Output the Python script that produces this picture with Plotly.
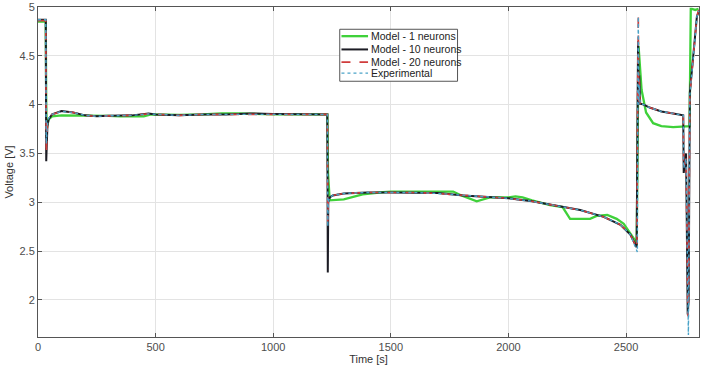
import plotly.graph_objects as go

# Model - 1 neurons (green)
t_m1 = [0, 33, 35, 37, 45, 60, 100, 200, 300, 350, 450, 480, 600, 700, 780, 850, 900, 1000,
        1100, 1200, 1230, 1233, 1240, 1300, 1380, 1450, 1500, 1600, 1765, 1800, 1865, 1921,
        2000, 2030, 2060, 2100, 2177, 2230, 2262, 2347, 2375, 2420, 2460, 2490, 2535, 2545,
        2550, 2553, 2566, 2585, 2615, 2650, 2700, 2770, 2775, 2780, 2794, 2808]
v_m1 = [4.85, 4.85, 4.0, 3.75, 3.85, 3.88, 3.89, 3.89, 3.885, 3.88, 3.88, 3.9, 3.895, 3.9, 3.91,
        3.91, 3.905, 3.9, 3.9, 3.9, 3.9, 3.3, 3.02, 3.03, 3.08, 3.10, 3.11, 3.11, 3.11, 3.07,
        3.01, 3.05, 3.05, 3.06, 3.05, 3.02, 2.97, 2.95, 2.83, 2.83, 2.86, 2.87, 2.83, 2.78,
        2.62, 2.56, 3.5, 4.6, 4.15, 3.92, 3.81, 3.78, 3.77, 3.78, 4.98, 4.98, 4.97, 4.98]

# Model - 10 neurons (black)
t_m10 = [0, 33, 35, 37, 40, 45, 60, 100, 150, 200, 250, 300, 400, 470, 500, 600, 700, 800,
         900, 1000, 1100, 1200, 1230, 1232, 1234, 1240, 1253, 1300, 1400, 1500, 1600, 1700,
         1808, 1900, 2000, 2100, 2191, 2305, 2405, 2476, 2518, 2545, 2549, 2551, 2554, 2556,
         2560, 2575, 2600, 2650, 2700, 2743, 2745, 2755, 2762, 2766, 2771, 2790, 2801, 2808]
v_m10 = [4.87, 4.87, 3.42, 3.65, 3.78, 3.85, 3.90, 3.935, 3.92, 3.89, 3.88, 3.885, 3.89, 3.91,
         3.9, 3.89, 3.9, 3.9, 3.91, 3.905, 3.905, 3.9, 3.9, 2.28, 3.0, 3.05, 3.07, 3.09, 3.10,
         3.10, 3.10, 3.095, 3.07, 3.055, 3.04, 3.01, 2.97, 2.92, 2.85, 2.77, 2.67, 2.54, 4.0,
         4.65, 4.0, 4.3, 4.01, 4.0, 3.97, 3.93, 3.91, 3.89, 3.30, 3.5, 1.85, 2.0, 4.12, 4.6,
         4.9, 4.95]

# Model - 20 neurons (red dashed)
t_m20 = [0, 33, 35, 37, 40, 45, 60, 100, 150, 200, 250, 300, 400, 470, 500, 600, 700, 800,
         900, 1000, 1100, 1200, 1230, 1232, 1234, 1240, 1253, 1300, 1400, 1500, 1600, 1700,
         1808, 1900, 2000, 2100, 2191, 2305, 2405, 2476, 2518, 2546, 2549, 2552, 2554, 2556,
         2560, 2575, 2600, 2650, 2700, 2743, 2745, 2755, 2763, 2766, 2771, 2790, 2801, 2808]
v_m20 = [4.86, 4.86, 3.5, 3.7, 3.8, 3.86, 3.90, 3.93, 3.92, 3.89, 3.88, 3.885, 3.89, 3.905,
         3.9, 3.89, 3.9, 3.9, 3.905, 3.905, 3.9, 3.9, 3.9, 2.8, 3.02, 3.05, 3.07, 3.09, 3.10,
         3.10, 3.10, 3.09, 3.07, 3.055, 3.04, 3.01, 2.97, 2.92, 2.85, 2.77, 2.67, 2.53, 4.1,
         4.93, 4.0, 4.25, 4.01, 4.0, 3.97, 3.93, 3.91, 3.89, 3.35, 3.45, 1.83, 2.1, 4.1, 4.6,
         4.9, 4.97]

# Experimental (blue dotted)
t_exp = [0, 33, 35, 37, 40, 45, 60, 100, 150, 200, 250, 300, 400, 470, 500, 600, 700, 800,
         900, 1000, 1100, 1200, 1230, 1232, 1234, 1240, 1253, 1300, 1400, 1500, 1600, 1700,
         1808, 1900, 2000, 2100, 2191, 2305, 2405, 2476, 2518, 2548, 2550, 2552, 2554, 2556,
         2560, 2575, 2600, 2650, 2700, 2743, 2745, 2755, 2765, 2767, 2771, 2790, 2801, 2808]
v_exp = [4.87, 4.87, 3.6, 3.72, 3.8, 3.86, 3.90, 3.93, 3.92, 3.89, 3.88, 3.885, 3.89, 3.905,
         3.9, 3.89, 3.9, 3.9, 3.905, 3.905, 3.9, 3.9, 3.9, 2.75, 3.0, 3.05, 3.07, 3.09, 3.10,
         3.10, 3.10, 3.09, 3.07, 3.055, 3.04, 3.01, 2.97, 2.92, 2.85, 2.77, 2.67, 2.49, 4.2,
         4.9, 4.0, 4.2, 4.01, 4.0, 3.97, 3.93, 3.91, 3.89, 3.35, 3.45, 1.64, 2.2, 4.1, 4.6,
         4.9, 4.96]

series_names = ["Model - 1 neurons", "Model - 10 neurons", "Model - 20 neurons", "Experimental"]
series_colors = ["#3fd13a", "#1c1c24", "#d03c3c", "#4aa3c8"]
series_widths = [2.3, 2.0, 1.6, 1.4]
series_dash = ["solid", "solid", "dash", "dot"]

x_ticks = [0, 500, 1000, 1500, 2000, 2500]
y_ticks = [2, 2.5, 3, 3.5, 4, 4.5, 5]
y_tick_labels = ["2", "2.5", "3", "3.5", "4", "4.5", "5"]

FONT = "Liberation Sans, Arial, sans-serif"

fig = go.Figure()
for tx, vy, nm, col, wd, ds in zip([t_m1, t_m10, t_m20, t_exp], [v_m1, v_m10, v_m20, v_exp],
                                   series_names, series_colors, series_widths, series_dash):
    fig.add_trace(go.Scatter(x=tx, y=vy, mode="lines", name=nm,
                             line=dict(color=col, width=wd, dash=ds)))

axis_common = dict(showline=True, linecolor="#555555", linewidth=1, mirror="ticks",
                   ticks="inside", ticklen=4, tickcolor="#555555",
                   showgrid=True, gridcolor="#e3e3e3", gridwidth=1, zeroline=False,
                   automargin=False,
                   tickfont=dict(family=FONT, size=11, color="#4d4d4d"))

fig.update_xaxes(range=[0, 2810], tickvals=x_ticks,
                 title=dict(text="Time [s]", standoff=1,
                            font=dict(family=FONT, size=11, color="#333333")),
                 **axis_common)
fig.update_yaxes(range=[1.62, 5.0], tickvals=y_ticks, ticktext=y_tick_labels,
                 title=dict(text="Voltage [V]", standoff=3,
                            font=dict(family=FONT, size=11, color="#333333")),
                 **axis_common)

# Compact legend box (drawn in paper coordinates, like the MATLAB legend)
leg_x0, leg_x1, leg_y0, leg_y1 = 0.4565, 0.6347, 0.775, 0.9325
row_y = [0.9116, 0.8714, 0.8329, 0.7996]
sample_x0, sample_x1, text_x = 0.4591, 0.4993, 0.5004

shapes = [dict(type="rect", xref="paper", yref="paper", x0=leg_x0, x1=leg_x1, y0=leg_y0, y1=leg_y1,
               line=dict(color="#555555", width=1), fillcolor="white", layer="above")]
annotations = []
for ry, nm, col, wd, ds in zip(row_y, series_names, series_colors, series_widths, series_dash):
    shapes.append(dict(type="line", xref="paper", yref="paper", x0=sample_x0, x1=sample_x1,
                       y0=ry, y1=ry, line=dict(color=col, width=wd, dash=ds), layer="above"))
    annotations.append(dict(xref="paper", yref="paper", x=text_x, y=ry, text=nm, showarrow=False,
                            xanchor="left", yanchor="middle",
                            font=dict(family=FONT, size=10.5, color="#222222")))

fig.update_layout(
    width=709, height=368,
    margin=dict(l=38, r=10, t=7, b=31, autoexpand=False),
    paper_bgcolor="white", plot_bgcolor="white",
    showlegend=False,
    shapes=shapes, annotations=annotations,
)

fig.write_html("out.html", config={"displayModeBar": False},
               post_script="document.body.style.margin='0px';document.body.style.padding='0px';")
